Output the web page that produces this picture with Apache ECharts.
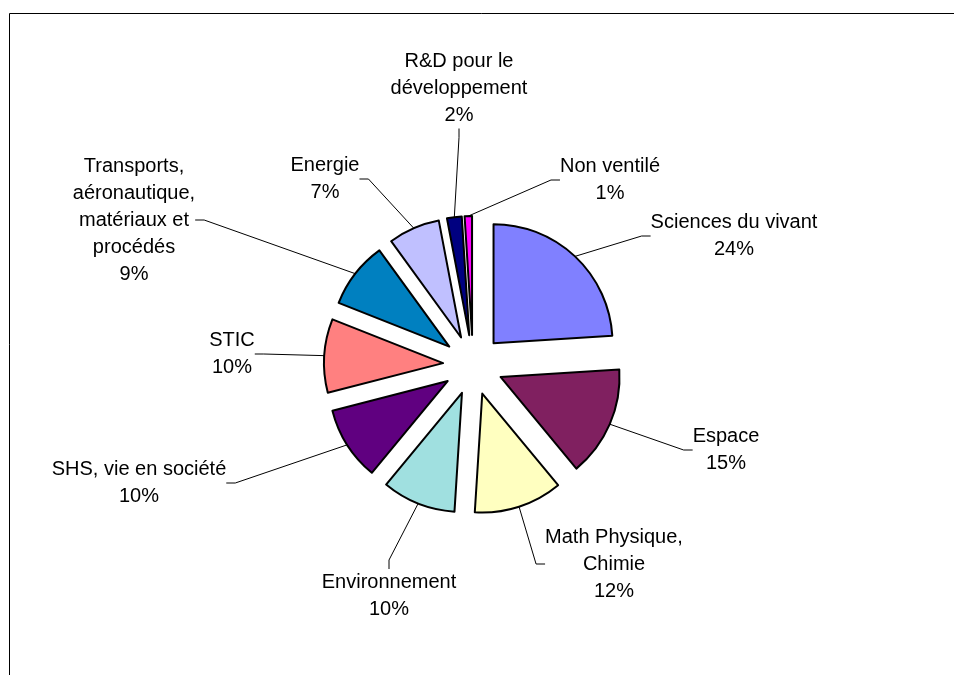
<!DOCTYPE html>
<html>
<head>
<meta charset="utf-8">
<script src="https://cdn.jsdelivr.net/npm/echarts@6/dist/echarts.min.js"></script>
<style>
  html, body { margin: 0; padding: 0; background: #fff; }
  #chart { width: 954px; height: 675px; }
</style>
</head>
<body>
<div id="chart"></div>
<script>
// données
var categories = [
  'Sciences du vivant',
  'Espace',
  'Math Physique,\nChimie',
  'Environnement',
  'SHS, vie en société',
  'STIC',
  'Transports,\naéronautique,\nmatériaux et\nprocédés',
  'Energie',
  'R&D pour le\ndéveloppement',
  'Non ventilé'
];
var values = [24, 15, 12, 10, 10, 10, 9, 7, 2, 1];

// couleurs des parts
var sliceColors = ['#8080FF', '#802060', '#FFFFC0', '#A0E0E0', '#600080',
                   '#FF8080', '#0080C0', '#C0C0FF', '#000080', '#FF00FF'];

// position des étiquettes (centre du bloc de texte)
var labelPos = [
  [734, 236], [726, 450], [614, 564], [389, 596], [139, 483],
  [232, 354], [134, 220], [325, 179], [459, 88], [610, 180]
];

var pieCenter = [473, 365];
var pieRadius = 119;
var explode = 30;

var pieData = [];
var labelData = [];
for (var i = 0; i < categories.length; i++) {
  pieData.push({
    name: categories[i],
    value: values[i],
    selected: true,
    itemStyle: { color: sliceColors[i] }
  });
  labelData.push({ name: categories[i], value: values[i] });
}

var chart = echarts.init(document.getElementById('chart'));
chart.setOption({
  animation: false,
  backgroundColor: '#fff',
  graphic: [{
    type: 'polyline',
    silent: true,
    shape: { points: [[9.5, 675], [9.5, 13.5], [954, 13.5]] },
    style: { stroke: '#000', lineWidth: 1, fill: null }
  }],
  series: [{
    // parts éclatées
    type: 'pie',
    center: pieCenter,
    radius: pieRadius,
    startAngle: 90,
    clockwise: true,
    selectedMode: 'multiple',
    selectedOffset: explode,
    emphasis: { disabled: true },
    itemStyle: { borderColor: '#000', borderWidth: 2 },
    label: { show: false },
    labelLine: { show: false },
    data: pieData
  }, {
    // étiquettes : même découpage, rayon = bord extérieur des parts éclatées
    type: 'pie',
    center: pieCenter,
    radius: pieRadius + explode,
    startAngle: 90,
    clockwise: true,
    silent: true,
    z: 3,
    emphasis: { disabled: true },
    itemStyle: { color: 'rgba(0,0,0,0)', borderWidth: 0 },
    label: {
      show: true,
      formatter: '{b}\n{c}%',
      color: '#000',
      fontFamily: 'Liberation Sans, Arial, sans-serif',
      fontSize: 20,
      lineHeight: 27,
      align: 'center'
    },
    labelLine: {
      show: true,
      length: 20,
      length2: 9,
      lineStyle: { color: '#000', width: 1 }
    },
    labelLayout: function (params) {
      var p = labelPos[params.dataIndex];
      return { x: p[0], y: p[1], align: 'center', verticalAlign: 'middle' };
    },
    data: labelData
  }]
});
</script>
</body>
</html>
